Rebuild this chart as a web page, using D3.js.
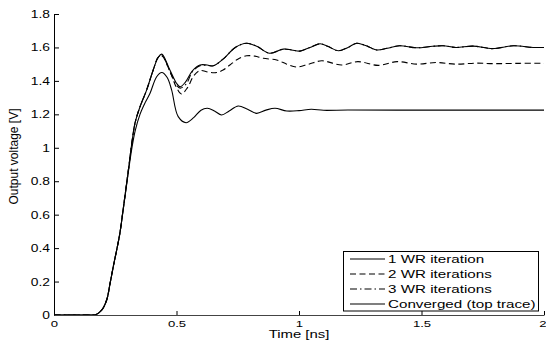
<!DOCTYPE html>
<html>
<head>
<meta charset="utf-8">
<script src="https://cdn.jsdelivr.net/npm/d3@7"></script>
<style>
  html, body { margin: 0; padding: 0; background: #fff; }
  svg { display: block; }
  text { font-family: "Liberation Sans", Arial, Helvetica, sans-serif; fill: #000; }
</style>
</head>
<body>
<svg id="chart" width="546" height="344"></svg>
<script>
// ---------- data (time in ns, voltage in V) ----------
const riseT = [0, 0.15, 0.17, 0.195, 0.215, 0.229, 0.242, 0.256, 0.269, 0.283, 0.303, 0.317, 0.331, 0.351, 0.378, 0.405, 0.425];
const riseV = [0, 0, 0.002, 0.03, 0.09, 0.19, 0.29, 0.39, 0.49, 0.64, 0.86, 1.02, 1.15, 1.245, 1.345, 1.465, 1.54];

const wr1T = [0, 0.15, 0.17, 0.195, 0.215, 0.229, 0.242, 0.256, 0.269, 0.283, 0.303, 0.317, 0.331, 0.351, 0.372, 0.392, 0.419, 0.44, 0.462, 0.48, 0.507, 0.539, 0.57, 0.6, 0.626, 0.655, 0.684, 0.715, 0.752, 0.79, 0.827, 0.865, 0.902, 0.95, 1.0, 1.05, 1.1, 1.2, 1.4, 1.7, 2.0];
const wr1V = [0, 0, 0.002, 0.03, 0.09, 0.19, 0.29, 0.39, 0.49, 0.635, 0.85, 0.99, 1.1, 1.2, 1.27, 1.326, 1.425, 1.45, 1.42, 1.346, 1.186, 1.15, 1.18, 1.225, 1.236, 1.22, 1.196, 1.22, 1.25, 1.23, 1.206, 1.225, 1.236, 1.22, 1.222, 1.23, 1.224, 1.226, 1.225, 1.225, 1.225];

const wr2T = [0.44, 0.475, 0.5, 0.52, 0.545, 0.57, 0.596, 0.63, 0.664, 0.69, 0.718, 0.75, 0.786, 0.82, 0.854, 0.909, 0.95, 0.99, 1.04, 1.093, 1.174, 1.24, 1.324, 1.4, 1.48, 1.56, 1.64, 1.72, 1.8, 1.9, 2.0];
const wr2V = [1.55, 1.45, 1.36, 1.322, 1.36, 1.43, 1.462, 1.452, 1.45, 1.465, 1.495, 1.53, 1.55, 1.548, 1.535, 1.525, 1.5, 1.483, 1.5, 1.52, 1.495, 1.515, 1.493, 1.515, 1.5, 1.51, 1.5, 1.506, 1.503, 1.505, 1.505];

const wr3T = [0.44, 0.475, 0.5, 0.515, 0.54, 0.565, 0.596, 0.625, 0.65, 0.69, 0.74, 0.786, 0.83, 0.88, 0.936, 0.97, 1.004, 1.045, 1.086, 1.12, 1.16, 1.2, 1.235, 1.275, 1.317, 1.36, 1.41, 1.48, 1.545, 1.589, 1.64, 1.71, 1.79, 1.875, 1.956, 2.0];
const wr3V = [1.553, 1.45, 1.375, 1.357, 1.382, 1.455, 1.49, 1.493, 1.49, 1.53, 1.6, 1.625, 1.605, 1.565, 1.59, 1.585, 1.578, 1.6, 1.622, 1.605, 1.58, 1.6, 1.625, 1.61, 1.585, 1.595, 1.61, 1.598, 1.607, 1.61, 1.6, 1.608, 1.593, 1.61, 1.6, 1.6];

const convT = [0.44, 0.473, 0.5, 0.515, 0.535, 0.565, 0.596, 0.625, 0.65, 0.69, 0.74, 0.786, 0.83, 0.88, 0.936, 0.97, 1.004, 1.045, 1.086, 1.12, 1.16, 1.2, 1.235, 1.275, 1.317, 1.36, 1.41, 1.48, 1.545, 1.589, 1.64, 1.71, 1.79, 1.875, 1.956, 2.0];
const convV = [1.56, 1.465, 1.386, 1.365, 1.39, 1.46, 1.495, 1.495, 1.49, 1.53, 1.6, 1.625, 1.605, 1.565, 1.59, 1.585, 1.578, 1.6, 1.622, 1.605, 1.58, 1.6, 1.625, 1.61, 1.585, 1.595, 1.61, 1.598, 1.607, 1.61, 1.6, 1.608, 1.593, 1.61, 1.6, 1.6];

const xTicks = [0, 0.5, 1, 1.5, 2];
const xTickLabels = ["0", "0.5", "1", "1.5", "2"];
const yTicks = [0, 0.2, 0.4, 0.6, 0.8, 1, 1.2, 1.4, 1.6, 1.8];
const yTickLabels = ["0", "0.2", "0.4", "0.6", "0.8", "1", "1.2", "1.4", "1.6", "1.8"];
const legendLabels = ["1 WR iteration", "2 WR iterations", "3 WR iterations", "Converged (top trace)"];
const xTitle = "Time [ns]";
const yTitle = "Output voltage [V]";

// ---------- build ----------
const svg = d3.select("#chart");
const mLeft = 54, mRight = 544, mTop = 14, mBottom = 315;
const SX = 1.38;   // horizontal stretch of the text in the reference

const x = d3.scaleLinear().domain([0, 2]).range([mLeft, mRight]);
const y = d3.scaleLinear().domain([0, 1.8]).range([mBottom, mTop]);

function pts(T, V) { return T.map((t, i) => [t, V[i]]); }
const rise = pts(riseT, riseV);
const series = [
  { data: pts(wr1T, wr1V), dash: null },
  { data: rise.concat(pts(wr2T, wr2V)), dash: "6,3.5" },
  { data: rise.concat(pts(wr3T, wr3V)), dash: "7,3,1.5,3" },
  { data: rise.concat(pts(convT, convV)), dash: null }
];

const line = d3.line()
  .x(d => x(d[0])).y(d => y(d[1]))
  .curve(d3.curveCatmullRom.alpha(0.5));

svg.append("g").selectAll("path").data(series).join("path")
  .attr("d", d => line(d.data))
  .attr("fill", "none")
  .attr("stroke", "#000")
  .attr("stroke-width", 1.1)
  .attr("stroke-dasharray", d => d.dash);

// axes
const yAxis = d3.axisLeft(y).tickValues(yTicks)
  .tickFormat((d, i) => yTickLabels[i]).tickSize(-5).tickSizeOuter(0);
const gy = svg.append("g").attr("transform", `translate(${mLeft},0)`).call(yAxis);
gy.attr("font-family", null).attr("font-size", null);
gy.select(".domain").attr("stroke", "#000");
gy.selectAll(".tick line").attr("stroke", "#000");
gy.selectAll(".tick text")
  .attr("x", 0).attr("dy", "0.35em")
  .attr("transform", `translate(-4,0) scale(${SX},1)`)
  .style("font-size", "10px");

const xAxis = d3.axisBottom(x).tickValues(xTicks)
  .tickFormat((d, i) => xTickLabels[i]).tickSize(-4).tickSizeOuter(0);
const gx = svg.append("g").attr("transform", `translate(0,${mBottom})`).call(xAxis);
gx.attr("font-family", null).attr("font-size", null);
gx.select(".domain").attr("stroke", "#444");
gx.selectAll(".tick line").attr("stroke", "#000");
gx.selectAll(".tick text")
  .attr("y", 5).attr("dy", "0.71em")
  .attr("transform", `scale(${SX},1)`)
  .style("font-size", "9.5px");
// last label sits against the right edge, as in the reference
gx.selectAll(".tick text").filter((d, i) => i === xTicks.length - 1)
  .attr("text-anchor", "end").attr("x", 1.4);

// titles
svg.append("text")
  .attr("transform", `translate(${(mLeft + mRight) / 2},338) scale(1.42,1)`)
  .attr("text-anchor", "middle")
  .style("font-size", "10.5px")
  .text(xTitle);

svg.append("text")
  .attr("transform", "translate(18,156.5) rotate(-90)")
  .attr("text-anchor", "middle")
  .style("font-size", "12px")
  .text(yTitle);

// legend
const lg = svg.append("g");
lg.append("rect")
  .attr("x", 343.5).attr("y", 251.5).attr("width", 195).attr("height", 59.5)
  .attr("fill", "#fff").attr("stroke", "#000").attr("stroke-width", 1);
const legY = [259, 274, 289, 304];
series.forEach((s, i) => {
  lg.append("line")
    .attr("x1", 350).attr("x2", 385).attr("y1", legY[i]).attr("y2", legY[i])
    .attr("stroke", "#000").attr("stroke-width", 1.1)
    .attr("stroke-dasharray", s.dash);
  lg.append("text")
    .attr("transform", `translate(388,${legY[i]}) scale(${SX},1)`)
    .attr("dy", "0.36em")
    .style("font-size", "11px")
    .text(legendLabels[i]);
});
</script>
</body>
</html>
